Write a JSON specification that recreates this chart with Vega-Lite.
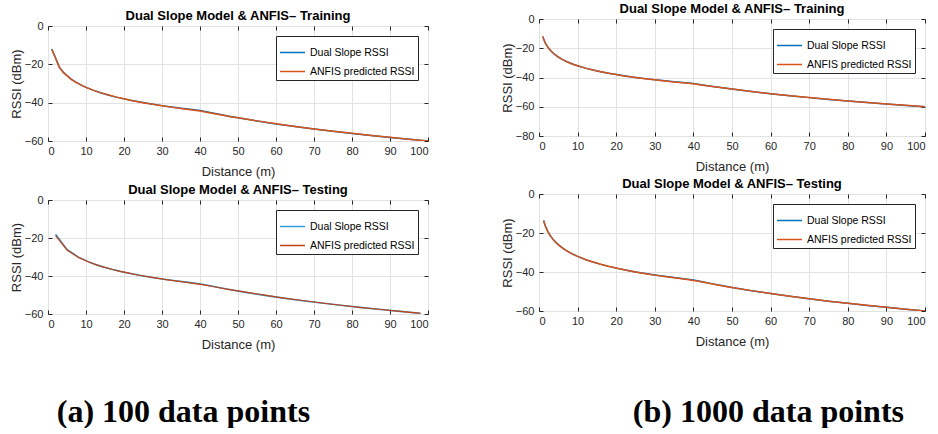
{
  "$schema": "https://vega.github.io/schema/vega-lite/v6.json",
  "padding": {"left": 9, "top": 2, "right": 4, "bottom": 0},
  "background": "white",
  "datasets": {
    "trainA": [
      {"d":1,"dual":-12,"anfis":-12.1},{"d":3,"dual":-21.54,"anfis":-21.6},{"d":4,"dual":-24.04,"anfis":-24.2},
      {"d":6,"dual":-27.56,"anfis":-27.7},{"d":7,"dual":-28.9,"anfis":-29.0},{"d":9,"dual":-31.08,"anfis":-31.1},
      {"d":10,"dual":-32,"anfis":-32},{"d":12,"dual":-33.58,"anfis":-33.6},{"d":14,"dual":-34.92,"anfis":-34.9},
      {"d":16,"dual":-36.08,"anfis":-36.0},{"d":18,"dual":-37.11,"anfis":-37.1},{"d":20,"dual":-38.02,"anfis":-38.0},
      {"d":22,"dual":-38.85,"anfis":-38.9},{"d":25,"dual":-39.96,"anfis":-40.0},{"d":28,"dual":-40.94,"anfis":-41.0},
      {"d":30,"dual":-41.54,"anfis":-41.6},{"d":32,"dual":-42.1,"anfis":-42.2},{"d":35,"dual":-42.88,"anfis":-43.0},
      {"d":38,"dual":-43.6,"anfis":-43.8},{"d":40,"dual":-44.04,"anfis":-44.4},{"d":42,"dual":-44.89,"anfis":-45.1},
      {"d":45,"dual":-46.09,"anfis":-46.2},{"d":48,"dual":-47.21,"anfis":-47.3},{"d":50,"dual":-47.92,"anfis":-47.9},
      {"d":55,"dual":-49.57,"anfis":-49.5},{"d":60,"dual":-51.08,"anfis":-51.0},{"d":65,"dual":-52.48,"anfis":-52.4},
      {"d":70,"dual":-53.76,"anfis":-53.7},{"d":75,"dual":-54.96,"anfis":-54.9},{"d":80,"dual":-56.08,"anfis":-56.0},
      {"d":85,"dual":-57.14,"anfis":-57.1},{"d":90,"dual":-58.13,"anfis":-58.1},{"d":95,"dual":-59.07,"anfis":-59.1},
      {"d":100,"dual":-59.96,"anfis":-60.0}
    ],
    "testA": [
      {"d":2,"dual":-18.02,"anfis":-18.7},{"d":5,"dual":-25.98,"anfis":-26.3},{"d":8,"dual":-30.06,"anfis":-30.2},
      {"d":11,"dual":-32.83,"anfis":-32.9},{"d":13,"dual":-34.28,"anfis":-34.3},{"d":15,"dual":-35.52,"anfis":-35.5},
      {"d":17,"dual":-36.61,"anfis":-36.6},{"d":19,"dual":-37.58,"anfis":-37.6},{"d":21,"dual":-38.44,"anfis":-38.4},
      {"d":24,"dual":-39.6,"anfis":-39.6},{"d":27,"dual":-40.63,"anfis":-40.6},{"d":31,"dual":-41.83,"anfis":-41.9},
      {"d":34,"dual":-42.63,"anfis":-42.7},{"d":37,"dual":-43.36,"anfis":-43.5},{"d":41,"dual":-44.47,"anfis":-44.7},
      {"d":44,"dual":-45.7,"anfis":-45.8},{"d":47,"dual":-46.84,"anfis":-46.9},{"d":52,"dual":-48.6,"anfis":-48.5},
      {"d":57,"dual":-50.19,"anfis":-50.1},{"d":62,"dual":-51.65,"anfis":-51.6},{"d":67,"dual":-53.0,"anfis":-52.9},
      {"d":72,"dual":-54.25,"anfis":-54.2},{"d":77,"dual":-55.42,"anfis":-55.4},{"d":82,"dual":-56.51,"anfis":-56.5},
      {"d":87,"dual":-57.54,"anfis":-57.5},{"d":92,"dual":-58.51,"anfis":-58.5},{"d":98,"dual":-59.61,"anfis":-59.7}
    ],
    "trainB": [
      {"d":1,"dual":-12,"anfis":-12.0},{"d":1.1,"dual":-12.83,"anfis":-12.85},{"d":1.2,"dual":-13.58,"anfis":-13.6},
      {"d":1.3,"dual":-14.28,"anfis":-14.3},{"d":1.5,"dual":-15.52,"anfis":-15.55},{"d":1.7,"dual":-16.61,"anfis":-16.65},
      {"d":2,"dual":-18.02,"anfis":-18.05},{"d":2.3,"dual":-19.23,"anfis":-19.25},{"d":2.6,"dual":-20.3,"anfis":-20.35},
      {"d":3,"dual":-21.54,"anfis":-21.6},{"d":3.5,"dual":-22.88,"anfis":-22.9},{"d":4,"dual":-24.04,"anfis":-24.1},
      {"d":4.5,"dual":-25.06,"anfis":-25.1},{"d":5,"dual":-25.98,"anfis":-26.0},{"d":6,"dual":-27.56,"anfis":-27.6},
      {"d":7,"dual":-28.9,"anfis":-28.95},{"d":8,"dual":-30.06,"anfis":-30.1},{"d":9,"dual":-31.08,"anfis":-31.1},
      {"d":10,"dual":-32,"anfis":-32},{"d":12,"dual":-33.58,"anfis":-33.6},{"d":14,"dual":-34.92,"anfis":-34.9},
      {"d":16,"dual":-36.08,"anfis":-36.05},{"d":18,"dual":-37.11,"anfis":-37.1},{"d":20,"dual":-38.02,"anfis":-38.0},
      {"d":22,"dual":-38.85,"anfis":-38.9},{"d":25,"dual":-39.96,"anfis":-40.0},{"d":28,"dual":-40.94,"anfis":-41.0},
      {"d":30,"dual":-41.54,"anfis":-41.6},{"d":32,"dual":-42.1,"anfis":-42.2},{"d":35,"dual":-42.88,"anfis":-43.0},
      {"d":38,"dual":-43.6,"anfis":-43.75},{"d":40,"dual":-44.04,"anfis":-44.35},{"d":42,"dual":-44.89,"anfis":-45.05},
      {"d":45,"dual":-46.09,"anfis":-46.15},{"d":48,"dual":-47.21,"anfis":-47.25},{"d":50,"dual":-47.92,"anfis":-47.9},
      {"d":55,"dual":-49.57,"anfis":-49.55},{"d":60,"dual":-51.08,"anfis":-51.05},{"d":65,"dual":-52.48,"anfis":-52.45},
      {"d":70,"dual":-53.76,"anfis":-53.75},{"d":75,"dual":-54.96,"anfis":-54.95},{"d":80,"dual":-56.08,"anfis":-56.05},
      {"d":85,"dual":-57.14,"anfis":-57.1},{"d":90,"dual":-58.13,"anfis":-58.1},{"d":95,"dual":-59.07,"anfis":-59.05},
      {"d":100,"dual":-59.96,"anfis":-59.95}
    ],
    "testB": [
      {"d":1.2,"dual":-13.58,"anfis":-13.6},{"d":1.3,"dual":-14.28,"anfis":-14.3},{"d":1.5,"dual":-15.52,"anfis":-15.55},
      {"d":1.7,"dual":-16.61,"anfis":-16.65},{"d":2,"dual":-18.02,"anfis":-18.05},{"d":2.3,"dual":-19.23,"anfis":-19.25},
      {"d":2.6,"dual":-20.3,"anfis":-20.35},{"d":3,"dual":-21.54,"anfis":-21.6},{"d":3.5,"dual":-22.88,"anfis":-22.9},
      {"d":4,"dual":-24.04,"anfis":-24.1},{"d":4.5,"dual":-25.06,"anfis":-25.1},{"d":5,"dual":-25.98,"anfis":-26.0},
      {"d":6,"dual":-27.56,"anfis":-27.6},{"d":7,"dual":-28.9,"anfis":-28.95},{"d":8,"dual":-30.06,"anfis":-30.1},
      {"d":9,"dual":-31.08,"anfis":-31.1},{"d":10,"dual":-32,"anfis":-32},{"d":12,"dual":-33.58,"anfis":-33.6},
      {"d":14,"dual":-34.92,"anfis":-34.9},{"d":16,"dual":-36.08,"anfis":-36.05},{"d":18,"dual":-37.11,"anfis":-37.1},
      {"d":20,"dual":-38.02,"anfis":-38.0},{"d":22,"dual":-38.85,"anfis":-38.9},{"d":25,"dual":-39.96,"anfis":-40.0},
      {"d":28,"dual":-40.94,"anfis":-41.0},{"d":30,"dual":-41.54,"anfis":-41.6},{"d":32,"dual":-42.1,"anfis":-42.2},
      {"d":35,"dual":-42.88,"anfis":-43.0},{"d":38,"dual":-43.6,"anfis":-43.75},{"d":40,"dual":-44.04,"anfis":-44.35},
      {"d":42,"dual":-44.89,"anfis":-45.05},{"d":45,"dual":-46.09,"anfis":-46.15},{"d":48,"dual":-47.21,"anfis":-47.25},
      {"d":50,"dual":-47.92,"anfis":-47.9},{"d":55,"dual":-49.57,"anfis":-49.55},{"d":60,"dual":-51.08,"anfis":-51.05},
      {"d":65,"dual":-52.48,"anfis":-52.45},{"d":70,"dual":-53.76,"anfis":-53.75},{"d":75,"dual":-54.96,"anfis":-54.95},
      {"d":80,"dual":-56.08,"anfis":-56.05},{"d":85,"dual":-57.14,"anfis":-57.1},{"d":90,"dual":-58.13,"anfis":-58.1},
      {"d":95,"dual":-59.07,"anfis":-59.05},{"d":100,"dual":-59.96,"anfis":-59.95}
    ]
  },
  "hconcat": [
    {
      "vconcat": [
        {"width": 380, "height": 1, "view": {"stroke": null}, "data": {"values": []}, "mark": {"type": "point", "opacity": 0}, "encoding": {}},
        {
          "vconcat": [
            {
              "width": 380, "height": 115,
              "title": "Dual Slope Model & ANFIS– Training",
              "data": {"name": "trainA"},
              "layer": [
                {"mark": {"type": "line", "strokeWidth": 1.5, "clip": true},
                 "encoding": {
                   "x": {"field": "d", "type": "quantitative", "scale": {"domain": [0, 100], "nice": false}, "axis": {"values": [0,10,20,30,40,50,60,70,80,90,100], "title": "Distance (m)"}},
                   "y": {"field": "dual", "type": "quantitative", "scale": {"domain": [-60, 0], "nice": false, "zero": false}, "axis": {"values": [-60,-40,-20,0], "title": "RSSI (dBm)"}},
                   "color": {"datum": "Dual Slope RSSI", "type": "nominal", "scale": {"domain": ["Dual Slope RSSI", "ANFIS predicted RSSI"], "range": ["#0072BD", "#D95319"]}, "legend": {"title": null}}
                 }},
                {"mark": {"type": "line", "strokeWidth": 1.5, "clip": true},
                 "encoding": {
                   "x": {"field": "d", "type": "quantitative", "axis": {"orient": "top", "labels": false, "title": null, "grid": false, "values": [0,10,20,30,40,50,60,70,80,90,100]}},
                   "y": {"field": "anfis", "type": "quantitative", "axis": {"orient": "right", "labels": false, "title": null, "grid": false, "values": [-60,-40,-20,0]}},
                   "color": {"datum": "ANFIS predicted RSSI", "type": "nominal"}
                 }}
              ],
              "resolve": {"axis": {"x": "independent", "y": "independent"}}
            },
            {
              "width": 380, "height": 114,
              "title": "Dual Slope Model & ANFIS– Testing",
              "data": {"name": "testA"},
              "layer": [
                {"mark": {"type": "line", "strokeWidth": 1.6, "clip": true},
                 "encoding": {
                   "x": {"field": "d", "type": "quantitative", "scale": {"domain": [0, 100], "nice": false}, "axis": {"values": [0,10,20,30,40,50,60,70,80,90,100], "title": "Distance (m)"}},
                   "y": {"field": "dual", "type": "quantitative", "scale": {"domain": [-60, 0], "nice": false, "zero": false}, "axis": {"values": [-60,-40,-20,0], "title": "RSSI (dBm)"}},
                   "color": {"datum": "Dual Slope RSSI", "type": "nominal", "scale": {"domain": ["Dual Slope RSSI", "ANFIS predicted RSSI"], "range": ["#3A9BDC", "#C2410E"]}, "legend": {"title": null}}
                 }},
                {"mark": {"type": "line", "strokeWidth": 1.2, "clip": true},
                 "encoding": {
                   "x": {"field": "d", "type": "quantitative", "axis": {"orient": "top", "labels": false, "title": null, "grid": false, "values": [0,10,20,30,40,50,60,70,80,90,100]}},
                   "y": {"field": "anfis", "type": "quantitative", "axis": {"orient": "right", "labels": false, "title": null, "grid": false, "values": [-60,-40,-20,0]}},
                   "color": {"datum": "ANFIS predicted RSSI", "type": "nominal"}
                 }}
              ],
              "resolve": {"axis": {"x": "independent", "y": "independent"}}
            }
          ],
          "spacing": 4,
          "resolve": {"scale": {"color": "independent"}, "legend": {"color": "independent"}}
        }
      ],
      "spacing": -11,
      "resolve": {"scale": {"color": "independent"}, "legend": {"color": "independent"}},
      "title": {"text": "(a) 100 data points", "orient": "bottom", "font": "Liberation Serif", "fontSize": 32, "fontWeight": "bold", "color": "#000000", "offset": 45, "anchor": "middle", "dx": -36}
    },
    {
      "vconcat": [
        {
          "width": 386, "height": 117,
          "title": "Dual Slope Model & ANFIS– Training",
          "data": {"name": "trainB"},
          "layer": [
            {"mark": {"type": "line", "strokeWidth": 1.5, "clip": true},
             "encoding": {
               "x": {"field": "d", "type": "quantitative", "scale": {"domain": [0, 100], "nice": false}, "axis": {"values": [0,10,20,30,40,50,60,70,80,90,100], "title": "Distance (m)"}},
               "y": {"field": "dual", "type": "quantitative", "scale": {"domain": [-80, 0], "nice": false, "zero": false}, "axis": {"values": [-80,-60,-40,-20,0], "title": "RSSI (dBm)"}},
               "color": {"datum": "Dual Slope RSSI", "type": "nominal", "scale": {"domain": ["Dual Slope RSSI", "ANFIS predicted RSSI"], "range": ["#0072BD", "#D95319"]}, "legend": {"title": null}}
             }},
            {"mark": {"type": "line", "strokeWidth": 1.5, "clip": true},
             "encoding": {
               "x": {"field": "d", "type": "quantitative", "axis": {"orient": "top", "labels": false, "title": null, "grid": false, "values": [0,10,20,30,40,50,60,70,80,90,100]}},
               "y": {"field": "anfis", "type": "quantitative", "axis": {"orient": "right", "labels": false, "title": null, "grid": false, "values": [-80,-60,-40,-20,0]}},
               "color": {"datum": "ANFIS predicted RSSI", "type": "nominal"}
             }}
          ],
          "resolve": {"axis": {"x": "independent", "y": "independent"}}
        },
        {
          "width": 386, "height": 117,
          "title": "Dual Slope Model & ANFIS– Testing",
          "data": {"name": "testB"},
          "layer": [
            {"mark": {"type": "line", "strokeWidth": 1.5, "clip": true},
             "encoding": {
               "x": {"field": "d", "type": "quantitative", "scale": {"domain": [0, 100], "nice": false}, "axis": {"values": [0,10,20,30,40,50,60,70,80,90,100], "title": "Distance (m)"}},
               "y": {"field": "dual", "type": "quantitative", "scale": {"domain": [-60, 0], "nice": false, "zero": false}, "axis": {"values": [-60,-40,-20,0], "title": "RSSI (dBm)"}},
               "color": {"datum": "Dual Slope RSSI", "type": "nominal", "scale": {"domain": ["Dual Slope RSSI", "ANFIS predicted RSSI"], "range": ["#0072BD", "#D95319"]}, "legend": {"title": null}}
             }},
            {"mark": {"type": "line", "strokeWidth": 1.5, "clip": true},
             "encoding": {
               "x": {"field": "d", "type": "quantitative", "axis": {"orient": "top", "labels": false, "title": null, "grid": false, "values": [0,10,20,30,40,50,60,70,80,90,100]}},
               "y": {"field": "anfis", "type": "quantitative", "axis": {"orient": "right", "labels": false, "title": null, "grid": false, "values": [-60,-40,-20,0]}},
               "color": {"datum": "ANFIS predicted RSSI", "type": "nominal"}
             }}
          ],
          "resolve": {"axis": {"x": "independent", "y": "independent"}}
        }
      ],
      "spacing": 3,
      "resolve": {"scale": {"color": "independent"}, "legend": {"color": "independent"}},
      "title": {"text": "(b) 1000 data points", "orient": "bottom", "font": "Liberation Serif", "fontSize": 32, "fontWeight": "bold", "color": "#000000", "offset": 48, "anchor": "middle", "dx": 55}
    }
  ],
  "spacing": 71,
  "resolve": {"scale": {"color": "independent"}, "legend": {"color": "independent"}},
  "config": {
    "font": "Liberation Sans",
    "view": {"stroke": "#262626", "strokeWidth": 1},
    "axis": {
      "domain": false, "gridColor": "#e2e2e2", "gridWidth": 1,
      "tickColor": "#262626", "tickSize": -4, "tickWidth": 1,
      "labelFont": "Liberation Sans", "labelFontSize": 11, "labelColor": "#262626",
      "titleFont": "Liberation Sans", "titleFontSize": 13, "titleFontWeight": "normal", "titleColor": "#262626"
    },
    "axisX": {"labelPadding": 8, "titlePadding": 9},
    "axisY": {"labelPadding": 9, "titlePadding": 1},
    "title": {"font": "Liberation Sans", "fontSize": 13, "fontWeight": "bold", "color": "#000000", "offset": -3},
    "legend": {
      "orient": "top-right", "offset": 10, "strokeColor": "#262626", "fillColor": "white", "padding": 3,
      "symbolType": "stroke", "symbolSize": 625, "symbolStrokeWidth": 1.5,
      "labelFont": "Liberation Sans", "labelFontSize": 10.5, "labelColor": "#000000", "labelOffset": 4, "rowPadding": -12
    }
  }
}
